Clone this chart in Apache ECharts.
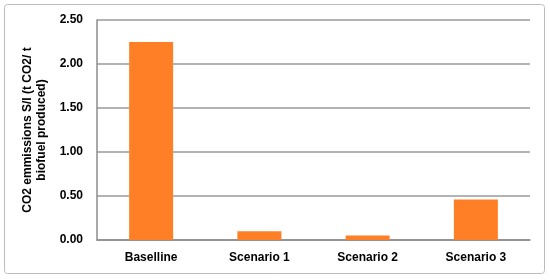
<!DOCTYPE html>
<html>
<head>
<meta charset="utf-8">
<script src="https://cdn.jsdelivr.net/npm/echarts@6/dist/echarts.min.js"></script>
<style>
  html, body { margin: 0; padding: 0; background: #fff; }
  #chart { width: 550px; height: 280px; }
</style>
</head>
<body>
<div id="chart"></div>
<script>
const categories = ["Baselline", "Scenario 1", "Scenario 2", "Scenario 3"];
const emissions = [2.25, 0.1, 0.05, 0.46];
const yTicks = { min: 0, max: 2.5, step: 0.5 };

window.addEventListener("load", function () {
  const myChart = echarts.init(document.getElementById("chart"));
  const font = "Liberation Sans";

  let option = {
    animation: false,
    graphic: [
      {
        type: "rect",
        shape: { x: 4.5, y: 4.5, width: 540, height: 269, r: 3 },
        style: { fill: "none", stroke: "#bcbcbc", lineWidth: 1 },
        silent: true,
      },
    ],
    grid: { left: 97, right: 20, top: 20, bottom: 40 },
    xAxis: {
      type: "category",
      data: categories,
      axisLine: { lineStyle: { color: "#8c8c8c", width: 1.5 } },
      axisTick: { show: false },
      axisLabel: {
        color: "#000",
        fontFamily: font,
        fontWeight: "bold",
        fontSize: 12,
        margin: 12,
      },
    },
    yAxis: {
      type: "value",
      min: yTicks.min,
      max: yTicks.max,
      interval: yTicks.step,
      name: "CO2 emmissions S/I (t CO2/ t\nbiofuel produced)",
      nameLocation: "middle",
      nameGap: 46,
      nameTextStyle: {
        color: "#000",
        fontFamily: font,
        fontWeight: "bold",
        fontSize: 12,
        lineHeight: 14,
        align: "center",
      },
      axisLine: { show: true, lineStyle: { color: "#8c8c8c", width: 1.5 } },
      axisTick: { show: false },
      splitLine: { lineStyle: { color: "#9a9a9a", width: 1.5 } },
      axisLabel: {
        color: "#000",
        fontFamily: font,
        fontWeight: "bold",
        fontSize: 12,
        margin: 14,
        formatter: (v) => v.toFixed(2),
      },
    },
    series: [
      {
        type: "bar",
        data: emissions,
        barWidth: 44,
        itemStyle: { color: "#FF7F27" },
      },
    ],
  };
  myChart.setOption(option);
});
</script>
</body>
</html>
